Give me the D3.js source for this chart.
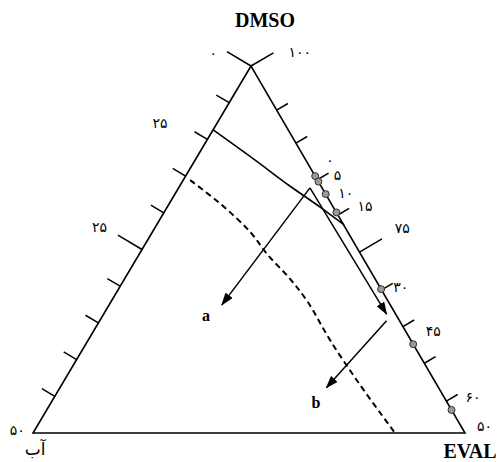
<!DOCTYPE html>
<html>
<head>
<meta charset="utf-8">
<script src="https://cdn.jsdelivr.net/npm/d3@7"></script>
<style>
body { margin: 0; background: #fff; }
text.num { font-family: "DejaVu Sans", sans-serif; font-size: 14px; }
text.ttl { font-family: "Liberation Serif", serif; font-weight: bold; }
</style>
</head>
<body>
<div id="chart"></div>
<script>
// ternary values: a = DMSO fraction (apex), c = EVAL fraction (bottom right), water = 1 - a - c
var leftTicks = [0.1, 0.2, 0.3, 0.4, 0.5, 0.6, 0.7, 0.8, 0.9];
var rightTicks = [0.087, 0.19, 0.29, 0.39, 0.493, 0.594, 0.69, 0.79, 0.88];
var leftLong = [1, 0.5];
var rightLong = [1, 0.493];

var leftLabels = ["۰", "۲۵", "۲۵", "۵۰"];
var leftLabelA = [0.981, 0.776, 0.494, -0.013];
var rightLabels = ["۱۰۰", "۰", "۵", "۱۰", "۱۵", "۷۵", "۳۰", "۴۵", "۶۰", "۵۰"];
var rightLabelA = [0.97, 0.715, 0.676, 0.630, 0.58, 0.491, 0.373, 0.245, 0.064, -0.01];

// measured points on the DMSO/EVAL side
var pointsA = [0.700, 0.685, 0.651, 0.601, 0.392, 0.242, 0.063];

// solid line from the water/DMSO side to the DMSO/EVAL side  [a, c]
var binodal = [[0.826, 0], [0.744, 0.138], [0.673, 0.255], [0.616, 0.353], [0.567, 0.434]];
// dashed line
var dashed = [[0.689, 0.016], [0.621, 0.124], [0.548, 0.226], [0.485, 0.299], [0.42, 0.383],
              [0.357, 0.456], [0.253, 0.560], [0.131, 0.691], [0, 0.838]];
// composition paths
var peak = [0.668, 0.304];
var arrowA = [0.349, 0.261];
var pathEnd = [0.324, 0.655];
var arrowB = [[0.306, 0.664], [0.123, 0.617]];

var width = 499, height = 462;
var svg = d3.select("#chart").append("svg")
    .attr("width", width).attr("height", height);

var apexX = (251 - 33) / 432;
var x = d3.scaleLinear().domain([0, 1]).range([33, 465]),
    y = d3.scaleLinear().domain([0, 1]).range([433, 66]);

function pt(a, c) { return [x(c + a * apexX), y(a)]; }

var A = pt(1, 0), B = pt(0, 0), C = pt(0, 1);

function unit(v) { var l = Math.hypot(v[0], v[1]); return [v[0] / l, v[1] / l]; }
var nLeft = unit([-(B[1] - A[1]), (B[0] - A[0])]);   // outward, up-left
if (nLeft[0] > 0) nLeft = [-nLeft[0], -nLeft[1]];
var nRight = unit([(C[1] - A[1]), -(C[0] - A[0])]);  // outward, up-right
if (nRight[0] < 0) nRight = [-nRight[0], -nRight[1]];

svg.append("defs").append("marker")
    .attr("id", "arr")
    .attr("markerUnits", "userSpaceOnUse")
    .attr("markerWidth", 13).attr("markerHeight", 9)
    .attr("refX", 12).attr("refY", 4.5)
    .attr("orient", "auto")
  .append("path")
    .attr("d", "M0,0 L13,4.5 L0,9 Z")
    .attr("fill", "#000");

// triangle
svg.append("path")
    .attr("d", d3.line()([A, B, C]) + "Z")
    .attr("fill", "none").attr("stroke", "#000").attr("stroke-width", 1.6);

// ticks
function tickLen(a, longs) { return longs.indexOf(a) >= 0 ? 28 : 15; }
var lt = leftTicks.concat([1]);
svg.selectAll(".tl").data(lt).enter().append("line")
    .attr("x1", function(a) { return pt(a, 0)[0]; })
    .attr("y1", function(a) { return pt(a, 0)[1]; })
    .attr("x2", function(a) { return pt(a, 0)[0] + nLeft[0] * tickLen(a, leftLong); })
    .attr("y2", function(a) { return pt(a, 0)[1] + nLeft[1] * tickLen(a, leftLong); })
    .attr("stroke", "#000").attr("stroke-width", 1.5);
var rt = rightTicks.concat([1]);
svg.selectAll(".tr").data(rt).enter().append("line")
    .attr("x1", function(a) { return pt(a, 1 - a)[0]; })
    .attr("y1", function(a) { return pt(a, 1 - a)[1]; })
    .attr("x2", function(a) { return pt(a, 1 - a)[0] + nRight[0] * (tickLen(a, rightLong) - 2); })
    .attr("y2", function(a) { return pt(a, 1 - a)[1] + nRight[1] * (tickLen(a, rightLong) - 2); })
    .attr("stroke", "#000").attr("stroke-width", 1.5);

// labels
var leftGap = [39, 49, 48, 15];
var rightGap = [49, 21, 20, 18, 28, 49, 18, 24, 25, 20];
svg.selectAll(".ll").data(leftLabels).enter().append("text")
    .attr("class", "num").attr("text-anchor", "middle").attr("dy", "0.35em")
    .attr("x", function(d, i) { return pt(leftLabelA[i], 0)[0] + nLeft[0] * leftGap[i]; })
    .attr("y", function(d, i) { return pt(leftLabelA[i], 0)[1] + nLeft[1] * leftGap[i]; })
    .text(function(d) { return d; });
svg.selectAll(".rl").data(rightLabels).enter().append("text")
    .attr("class", "num").attr("text-anchor", "middle").attr("dy", "0.35em")
    .attr("x", function(d, i) { var a = rightLabelA[i]; return pt(a, 1 - a)[0] + nRight[0] * rightGap[i]; })
    .attr("y", function(d, i) { var a = rightLabelA[i]; return pt(a, 1 - a)[1] + nRight[1] * rightGap[i]; })
    .text(function(d) { return d; });

var line = d3.line().x(function(d) { return pt(d[0], d[1])[0]; })
                    .y(function(d) { return pt(d[0], d[1])[1]; });

svg.append("path").attr("d", d3.line().curve(d3.curveMonotoneX)
        .x(function(d) { return pt(d[0], d[1])[0]; })
        .y(function(d) { return pt(d[0], d[1])[1]; })(binodal))
    .attr("fill", "none").attr("stroke", "#000").attr("stroke-width", 1.6);

svg.append("path").attr("d", d3.line().curve(d3.curveCatmullRom)
        .x(function(d) { return pt(d[0], d[1])[0]; })
        .y(function(d) { return pt(d[0], d[1])[1]; })(dashed))
    .attr("fill", "none").attr("stroke", "#000").attr("stroke-width", 2)
    .attr("stroke-dasharray", "6,4");

svg.append("path").attr("d", line([peak, arrowA]))
    .attr("fill", "none").attr("stroke", "#000").attr("stroke-width", 1.5)
    .attr("marker-end", "url(#arr)");
svg.append("path").attr("d", line([peak, pathEnd]))
    .attr("fill", "none").attr("stroke", "#000").attr("stroke-width", 1.5)
    .attr("marker-end", "url(#arr)");
svg.append("path").attr("d", line(arrowB))
    .attr("fill", "none").attr("stroke", "#000").attr("stroke-width", 1.5)
    .attr("marker-end", "url(#arr)");

// measured points
svg.selectAll(".pt").data(pointsA).enter().append("circle")
    .attr("cx", function(a) { return pt(a, 1 - a)[0]; })
    .attr("cy", function(a) { return pt(a, 1 - a)[1]; })
    .attr("r", 3.5)
    .attr("fill", "#999").attr("stroke", "#333").attr("stroke-width", 1);

// titles
svg.append("text").attr("class", "ttl").attr("x", 265).attr("y", 27)
    .attr("text-anchor", "middle").style("font-size", "20px").text("DMSO");
svg.append("text").attr("class", "ttl").attr("x", 470).attr("y", 458)
    .attr("text-anchor", "middle").style("font-size", "20px").text("EVAL");
svg.append("text").attr("x", 35).attr("y", 455)
    .attr("text-anchor", "middle")
    .style("font-family", "DejaVu Sans, sans-serif").style("font-size", "17px")
    .text("آب");
svg.append("text").attr("class", "ttl").attr("x", 206).attr("y", 321)
    .attr("text-anchor", "middle").style("font-size", "16px").text("a");
svg.append("text").attr("class", "ttl").attr("x", 316).attr("y", 408)
    .attr("text-anchor", "middle").style("font-size", "16px").text("b");
</script>
</body>
</html>
